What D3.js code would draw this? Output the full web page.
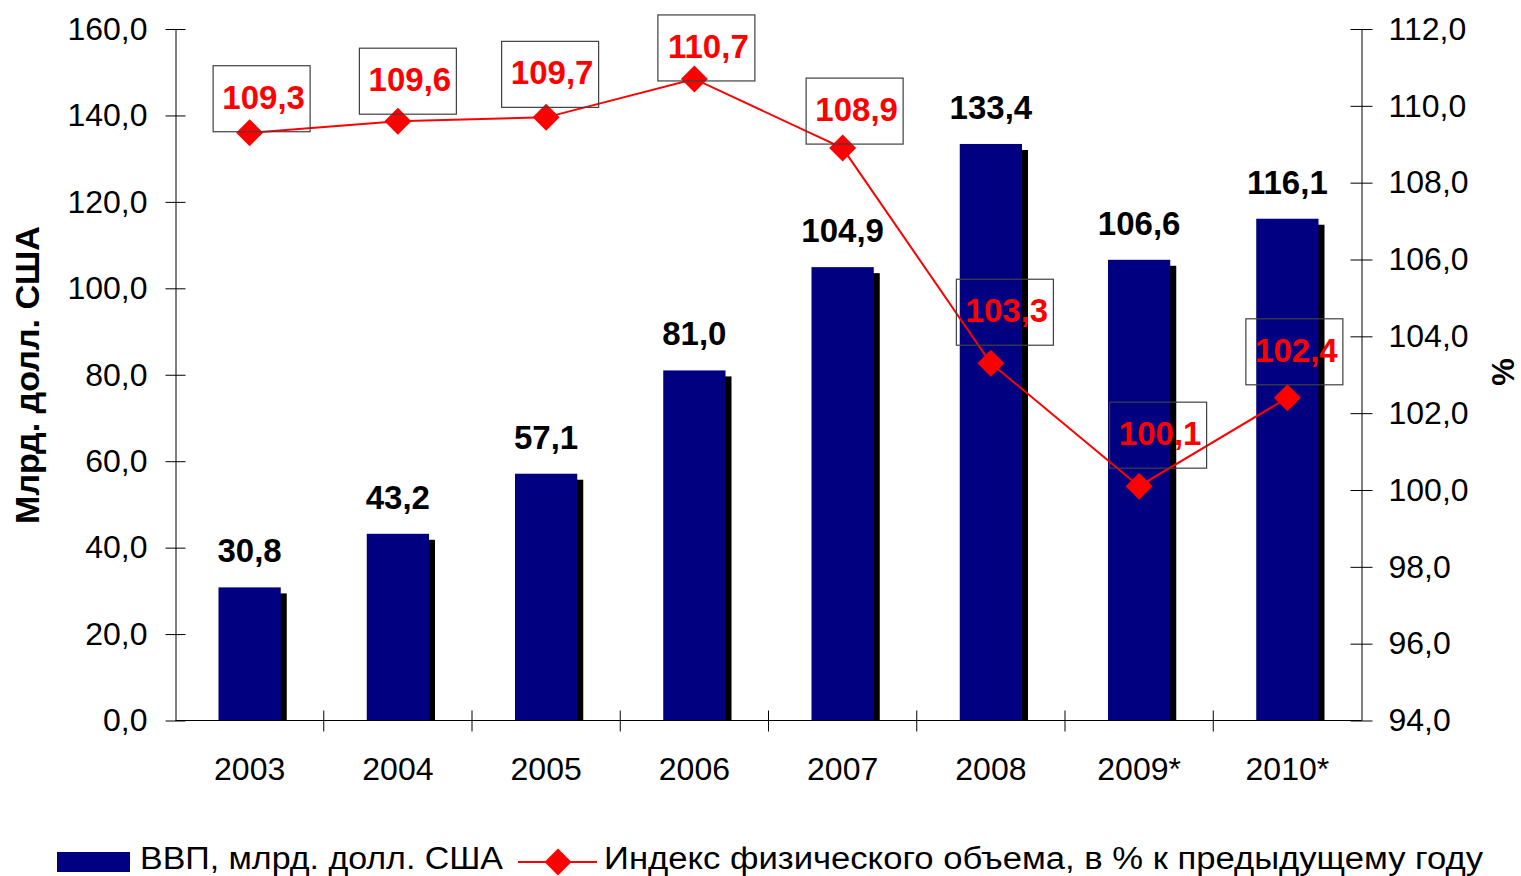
<!DOCTYPE html>
<html>
<head>
<meta charset="utf-8">
<script src="https://cdn.jsdelivr.net/npm/d3@7"></script>
<style>
  body { margin: 0; background: #fff; }
  svg text { font-family: "Liberation Sans", Arial, sans-serif; }
</style>
</head>
<body>
<div id="chart"></div>
<script>
// data
const years = ['2003', '2004', '2005', '2006', '2007', '2008', '2009*', '2010*'];
const gdp = [30.8, 43.2, 57.1, 81.0, 104.9, 133.4, 106.6, 116.1];
const volumeIndex = [109.3, 109.6, 109.7, 110.7, 108.9, 103.3, 100.1, 102.4];
const leftTicks = [0, 20, 40, 60, 80, 100, 120, 140, 160];
const rightTicks = [94, 96, 98, 100, 102, 104, 106, 108, 110, 112];
const seriesNames = ['ВВП, млрд. долл. США', 'Индекс физического объема, в % к предыдущему году'];

// hand placement of the boxed index labels, relative to each point [dx, lift]
const labelNudge = [[12, 1], [10, 7], [4, 10], [12, -2], [12, 4], [14, 18], [19, 18], [7, 13]];

const W = 1521, H = 876;
const plot = {left: 175.5, right: 1361.5, top: 29, bottom: 720.5};

const ru = d3.formatLocale({decimal: ',', thousands: ' ', grouping: [3], currency: ['', '']});
const fmt = ru.format('.1f');

const svg = d3.select('#chart').append('svg')
  .attr('width', W)
  .attr('height', H);

const x = d3.scaleBand()
  .domain(years)
  .range([plot.left, plot.right]);
const yL = d3.scaleLinear().domain([0, 160]).range([plot.bottom, plot.top]);
const yR = d3.scaleLinear().domain([94, 112]).range([plot.bottom, plot.top]);

const barW = x.bandwidth() * 0.42;
const cx = d => x(d) + x.bandwidth() / 2;

// bars with a drop shadow
const bars = svg.append('g');
bars.selectAll('rect.shadow')
  .data(years)
  .join('rect')
  .attr('class', 'shadow')
  .attr('x', (d) => cx(d) - barW / 2 + 6)
  .attr('y', (d, i) => yL(gdp[i]) + 6)
  .attr('width', barW)
  .attr('height', (d, i) => plot.bottom - yL(gdp[i]) - 6)
  .attr('fill', '#000');
bars.selectAll('rect.bar')
  .data(years)
  .join('rect')
  .attr('class', 'bar')
  .attr('x', (d) => cx(d) - barW / 2)
  .attr('y', (d, i) => yL(gdp[i]))
  .attr('width', barW)
  .attr('height', (d, i) => plot.bottom - yL(gdp[i]))
  .attr('fill', '#000080');

bars.selectAll('text.val')
  .data(years)
  .join('text')
  .attr('class', 'val')
  .attr('x', d => cx(d))
  .attr('y', (d, i) => yL(gdp[i]) - 25)
  .attr('text-anchor', 'middle')
  .style('font-size', '33px')
  .style('font-weight', 'bold')
  .text((d, i) => fmt(gdp[i]));

// axes
const axL = svg.append('g')
  .attr('transform', `translate(${plot.left},0)`)
  .call(d3.axisLeft(yL).tickValues(leftTicks).tickFormat(fmt).tickSize(10).tickPadding(18).tickSizeOuter(0));
const axR = svg.append('g')
  .attr('transform', `translate(${plot.right},0)`)
  .call(d3.axisRight(yR).tickValues(rightTicks).tickFormat(fmt).tickSize(11).tickPadding(16).tickSizeOuter(0));
for (const [ax, inner] of [[axL, 10], [axR, -11]]) {
  ax.select('.domain').attr('stroke', '#000');
  ax.selectAll('.tick line').attr('x1', inner).attr('stroke', '#000');
  ax.selectAll('.tick text')
    .attr('fill', '#000')
    .style('font-size', '32px')
    .style('font-family', '"Liberation Sans", Arial, sans-serif');
}

const axB = svg.append('g');
axB.append('line')
  .attr('x1', plot.left).attr('x2', plot.right)
  .attr('y1', plot.bottom).attr('y2', plot.bottom)
  .attr('stroke', '#000');
axB.selectAll('line.tk')
  .data(years.slice(1))
  .join('line')
  .attr('class', 'tk')
  .attr('x1', d => x(d)).attr('x2', d => x(d))
  .attr('y1', plot.bottom - 10).attr('y2', plot.bottom + 11)
  .attr('stroke', '#000');
axB.selectAll('text')
  .data(years)
  .join('text')
  .attr('x', d => cx(d))
  .attr('y', 780)
  .attr('text-anchor', 'middle')
  .style('font-size', '32px')
  .text(d => d);

// axis titles
svg.append('text')
  .attr('transform', `translate(39,375) rotate(-90)`)
  .attr('text-anchor', 'middle')
  .attr('textLength', 298)
  .attr('lengthAdjust', 'spacingAndGlyphs')
  .style('font-size', '33px')
  .style('font-weight', 'bold')
  .text('Млрд. долл. США');
svg.append('text')
  .attr('transform', `translate(1514,372) rotate(-90)`)
  .attr('text-anchor', 'middle')
  .style('font-size', '31px')
  .style('font-weight', 'bold')
  .text('%');

// index line
const line = d3.line()
  .x(d => cx(d))
  .y((d, i) => yR(volumeIndex[i]));
svg.append('path')
  .datum(years)
  .attr('d', line)
  .attr('fill', 'none')
  .attr('stroke', '#ff0000')
  .attr('stroke-width', 2);

const diamond = d3.symbol().type(d3.symbolSquare).size(365);
svg.append('g').selectAll('path')
  .data(years)
  .join('path')
  .attr('d', diamond)
  .attr('transform', (d, i) => `translate(${cx(d)},${yR(volumeIndex[i])}) rotate(45)`)
  .attr('fill', '#ff0000');

// boxed labels
const boxW = 97, boxH = 66;
const lbl = svg.append('g').selectAll('g')
  .data(years)
  .join('g')
  .attr('transform', (d, i) => {
    const bx = cx(d) + labelNudge[i][0] - boxW / 2;
    const by = yR(volumeIndex[i]) - labelNudge[i][1] - boxH;
    return `translate(${bx},${by})`;
  });
lbl.append('rect')
  .attr('width', boxW)
  .attr('height', boxH)
  .attr('fill', 'none')
  .attr('stroke', '#404040')
  .attr('stroke-width', 1.2);
lbl.append('text')
  .attr('x', boxW / 2 + 2)
  .attr('y', 43)
  .attr('text-anchor', 'middle')
  .attr('fill', '#ff0000')
  .style('font-size', '33px')
  .style('font-weight', 'bold')
  .text((d, i) => fmt(volumeIndex[i]));

// legend
const leg = svg.append('g');
leg.append('rect')
  .attr('x', 57).attr('y', 852)
  .attr('width', 73).attr('height', 20)
  .attr('fill', '#000080');
leg.append('text')
  .attr('x', 140).attr('y', 869)
  .attr('textLength', 363)
  .attr('lengthAdjust', 'spacingAndGlyphs')
  .style('font-size', '31px')
  .text(seriesNames[0]);
leg.append('line')
  .attr('x1', 518).attr('x2', 597)
  .attr('y1', 862).attr('y2', 862)
  .attr('stroke', '#ff0000')
  .attr('stroke-width', 2);
leg.append('path')
  .attr('d', d3.symbol().type(d3.symbolSquare).size(365))
  .attr('transform', 'translate(558,862) rotate(45)')
  .attr('fill', '#ff0000');
leg.append('text')
  .attr('x', 604).attr('y', 869)
  .attr('textLength', 879)
  .attr('lengthAdjust', 'spacingAndGlyphs')
  .style('font-size', '31px')
  .text(seriesNames[1]);
</script>
</body>
</html>
